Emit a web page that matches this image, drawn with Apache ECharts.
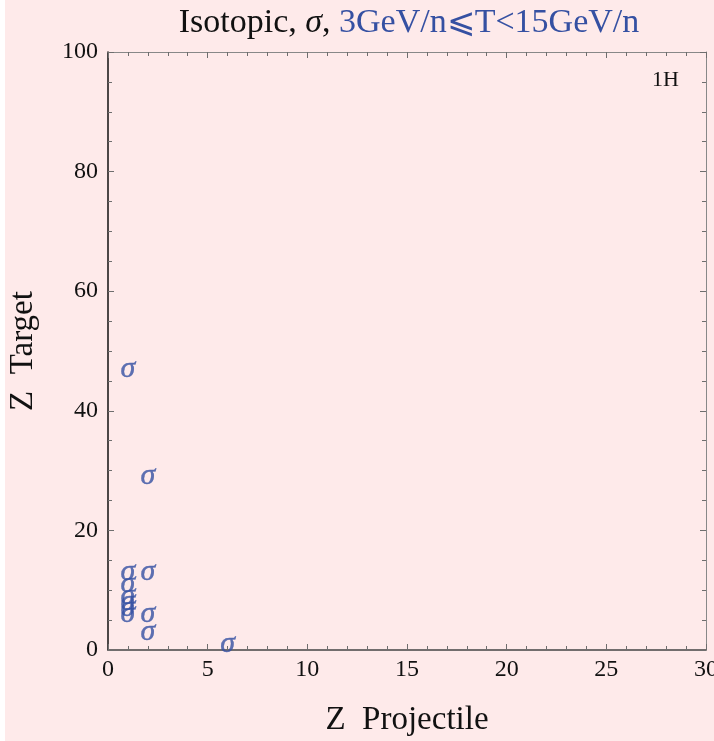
<!DOCTYPE html>
<html><head><meta charset="utf-8">
<script src="https://cdn.jsdelivr.net/npm/echarts@6/dist/echarts.min.js"></script>
<style>html,body{margin:0;padding:0;background:#fff;}#c{width:714px;height:741px;}</style>
</head><body><div id="c"></div>
<script>
// Data: (Z projectile, Z target) pairs with sigma measurements
const projectileZ = [1, 1, 1, 1, 1, 1, 1, 2, 2, 2, 2, 6];
const targetZ     = [47, 13, 11, 9, 8, 7, 6, 29, 13, 6, 3, 1];
const xTicks = [0, 5, 10, 15, 20, 25, 30];
const yTicks = [0, 20, 40, 60, 80, 100];

const blue = '#3550a2';
const serif = '"Liberation Serif", "DejaVu Serif", serif';
const points = projectileZ.map((x, i) => [x, targetZ[i]]);

const chart = echarts.init(document.getElementById('c'));
const tickStyle = {color: '#6e6e6e', width: 1};
function frameAxis(extra) {
  return Object.assign({
    type: 'value',
    axisLine: {show: true, onZero: false, lineStyle: {color: '#888', width: 1}},
    axisTick: {show: true, inside: true, length: 6, lineStyle: tickStyle},
    minorTick: {show: true, length: 4, lineStyle: tickStyle},
    splitLine: {show: false}, axisLabel: {show: false}
  }, extra);
}
chart.setOption({
  backgroundColor: '#fff',
  animation: false,
  graphic: [{type: 'rect', z: -10, shape: {x: 5, y: 0, width: 709, height: 741}, style: {fill: '#feeaea'}},
    {type: 'text', left: 652, top: 69, style: {text: '1H', font: '22px ' + serif, fill: '#111'}}],
  title: {
    text: '{a|Isotopic, }{s|σ}{a|, }{b|3GeV/n⩽T<15GeV/n}',
    left: 404, top: 1, textAlign: 'center',
    textStyle: {fontWeight: 'normal', rich: {
      a: {fontFamily: serif, fontSize: 34, color: '#111', fontWeight: 'normal'},
      s: {fontFamily: serif, fontSize: 34, color: '#111', fontStyle: 'italic', fontWeight: 'normal'},
      b: {fontFamily: serif, fontSize: 34, color: blue, fontWeight: 'normal'}
    }}
  },
  grid: {left: 108, top: 52, width: 598, height: 598, containLabel: false, outerBoundsMode: 'none'},
  xAxis: [{
    type: 'value', min: 0, max: 30, interval: 5, position: 'bottom',
    axisLine: {show: true, onZero: false, lineStyle: {color: '#444', width: 1.5}},
    axisTick: {show: true, inside: true, length: 6, lineStyle: tickStyle},
    minorTick: {show: true, splitNumber: 5, length: 4, lineStyle: tickStyle},
    splitLine: {show: false},
    axisLabel: {fontFamily: serif, fontSize: 24, color: '#111', margin: 8,
      formatter: v => xTicks.includes(v) ? String(v) : ''},
    name: 'Z  Projectile', nameLocation: 'middle', nameGap: 54,
    nameTextStyle: {fontFamily: serif, fontSize: 33, color: '#111'}
  }, frameAxis({min: 0, max: 30, interval: 5, position: 'top',
    minorTick: {show: true, splitNumber: 5, length: 4, lineStyle: tickStyle}})],
  yAxis: [{
    type: 'value', min: 0, max: 100, interval: 20, position: 'left',
    axisLine: {show: true, onZero: false, lineStyle: {color: '#111', width: 1.5}},
    axisTick: {show: true, inside: true, length: 6, lineStyle: tickStyle},
    minorTick: {show: true, splitNumber: 4, length: 4, lineStyle: tickStyle},
    splitLine: {show: false},
    axisLabel: {fontFamily: serif, fontSize: 24, color: '#111', margin: 10,
      formatter: v => yTicks.includes(v) ? String(v) : ''},
    name: 'Z  Target', nameLocation: 'middle', nameGap: 68, nameRotate: 90,
    nameTextStyle: {fontFamily: serif, fontSize: 33, color: '#111'}
  }, frameAxis({min: 0, max: 100, interval: 20, position: 'right',
    minorTick: {show: true, splitNumber: 4, length: 4, lineStyle: tickStyle}})],
  series: [{
    type: 'scatter', xAxisIndex: 0, yAxisIndex: 0,
    data: points, symbolSize: 0, symbol: 'circle',
    itemStyle: {color: 'transparent'},
    label: {show: true, position: 'inside', formatter: 'σ',
      fontFamily: serif, fontStyle: 'italic', fontSize: 30, color: blue,
      textBorderColor: blue, textBorderWidth: 0.4},
    labelLayout: {hideOverlap: false}
  }]
});
</script></body></html>
